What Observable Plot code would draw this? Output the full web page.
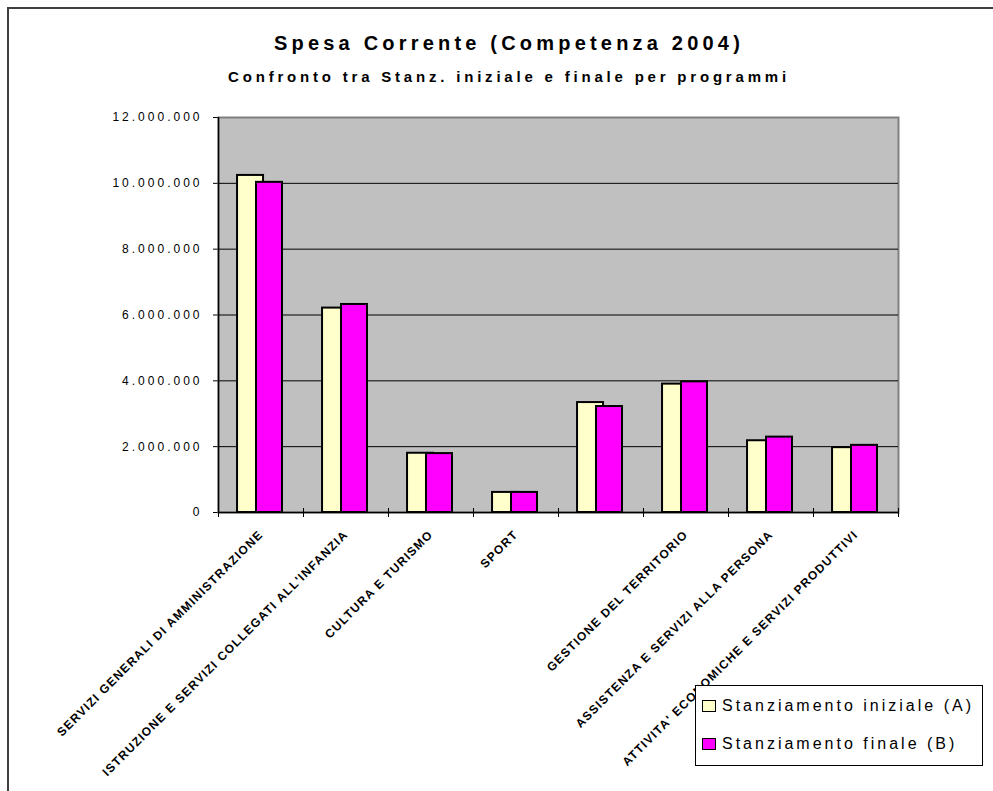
<!DOCTYPE html>
<html>
<head>
<meta charset="utf-8">
<script src="https://cdn.jsdelivr.net/npm/d3@7"></script>
<script src="https://cdn.jsdelivr.net/npm/@observablehq/plot@0.6"></script>
<style>
html, body { margin: 0; padding: 0; background: #fff; overflow: hidden; }
#page { position: relative; width: 993px; height: 791px; overflow: hidden; font-family: "Liberation Sans", Arial, sans-serif; color: #000; }
#border { position: absolute; left: 7px; top: 7px; width: 1100px; height: 900px; border: 2px solid #404040; box-sizing: border-box; }
#chart { position: absolute; left: 0; top: 0; }
#title { position: absolute; left: 0; width: 1018px; top: 32px; text-align: center; font-weight: bold; font-size: 20px; letter-spacing: 4.2px; white-space: nowrap; }
#subtitle { position: absolute; left: 0; width: 1018px; top: 68px; text-align: center; font-weight: bold; font-size: 15px; letter-spacing: 3.8px; white-space: nowrap; }
#legend { position: absolute; left: 695px; top: 685px; width: 288px; height: 81px; border: 1px solid #000; background: #fff; box-sizing: border-box; }
.item { position: absolute; left: 6px; height: 16px; display: flex; align-items: center; font-size: 16px; letter-spacing: 3px; white-space: nowrap; }
.sw { width: 14px; height: 12px; border: 1.5px solid #000; margin-right: 6px; box-sizing: border-box; }
#chart svg [aria-label^="y-axis"] text { letter-spacing: 3px; font-size: 12px; }
#chart svg [aria-label^="x-axis"] text { font-weight: bold; font-size: 12px; letter-spacing: 1.2px; }
</style>
</head>
<body>
<div id="page">
  <div id="border"></div>
  <div id="chart"></div>
  <div id="title"></div>
  <div id="subtitle"></div>
  <div id="legend"></div>
</div>
<script>
// ---- data ----
const titleText = "Spesa Corrente (Competenza 2004)";
const subtitleText = "Confronto tra Stanz. iniziale e finale per programmi";
const categories = [
  "SERVIZI GENERALI DI AMMINISTRAZIONE",
  "ISTRUZIONE E SERVIZI COLLEGATI ALL'INFANZIA",
  "CULTURA E TURISMO",
  "SPORT",
  "",
  "GESTIONE DEL TERRITORIO",
  "ASSISTENZA E SERVIZI ALLA PERSONA",
  "ATTIVITA' ECONOMICHE E SERVIZI PRODUTTIVI"
];
const stanzIniziale = [10240000, 6210000, 1800000, 610000, 3340000, 3900000, 2180000, 1970000];
const stanzFinale   = [10030000, 6320000, 1790000, 610000, 3220000, 3970000, 2290000, 2040000];
const seriesNames = ["Stanziamento iniziale (A)", "Stanziamento finale (B)"];
const seriesColors = ["#FFFFCC", "#FF00FF"];
const yTicks = [0, 2000000, 4000000, 6000000, 8000000, 10000000, 12000000];

// ---- build ----
const table = categories.map((c, i) => ({categoria: c, A: stanzIniziale[i], B: stanzFinale[i]}));
const itLocale = d3.formatLocale({decimal: ",", thousands: ".", grouping: [3], currency: ["€", ""]});
const fmt = itLocale.format(",");

const W = 993, H = 791, mL = 218, mR = 95, mT = 117, mB = 279;
const bw = (W - mL - mR) / categories.length;
const plotH = H - mT - mB;

const plot = Plot.plot({
  width: W, height: H,
  marginLeft: mL, marginRight: mR, marginTop: mT, marginBottom: mB,
  style: {background: "transparent", fontFamily: "'Liberation Sans', Arial, sans-serif", fontSize: "12px", color: "#000", overflow: "visible"},
  x: {domain: categories, padding: 0, tickSize: 0, tickRotate: -45, tickPadding: 20, label: null},
  y: {domain: [0, 12000000], ticks: yTicks, tickFormat: fmt, tickSize: 5, tickPadding: 11, label: null},
  marks: [
    Plot.frame({fill: "#C0C0C0", stroke: "#808080", strokeWidth: 2}),
    Plot.ruleY(yTicks.filter(v => v > 0 && v < 12000000), {stroke: "#000", strokeWidth: 1}),
    Plot.barY(table, {x: "categoria", y: "A", fill: seriesColors[0], stroke: "#000", strokeWidth: 2,
      insetLeft: bw * 0.224, insetRight: bw * 0.47}),
    Plot.barY(table, {x: "categoria", y: "B", fill: seriesColors[1], stroke: "#000", strokeWidth: 2,
      insetLeft: bw * 0.447, insetRight: bw * 0.247}),
    Plot.ruleY([0], {stroke: "#000", strokeWidth: 1.5}),
    Plot.ruleX([categories[0]], {dx: -bw / 2, stroke: "#000", strokeWidth: 1.5}),
    Plot.ruleX(categories, {dx: -bw / 2, stroke: "#000", strokeWidth: 1, insetTop: plotH - 4, insetBottom: -5}),
    Plot.ruleX([categories[categories.length - 1]], {dx: bw / 2, stroke: "#000", strokeWidth: 1, insetTop: plotH - 4, insetBottom: -5})
  ]
});
document.getElementById("chart").appendChild(plot);
document.getElementById("title").textContent = titleText;
document.getElementById("subtitle").textContent = subtitleText;

const legend = document.getElementById("legend");
seriesNames.forEach((name, i) => {
  const item = document.createElement("div");
  item.className = "item";
  item.style.top = (i === 0 ? 12 : 50) + "px";
  const sw = document.createElement("div");
  sw.className = "sw";
  sw.style.background = seriesColors[i];
  const t = document.createElement("span");
  t.textContent = name;
  item.appendChild(sw);
  item.appendChild(t);
  legend.appendChild(item);
});
</script>
</body>
</html>
